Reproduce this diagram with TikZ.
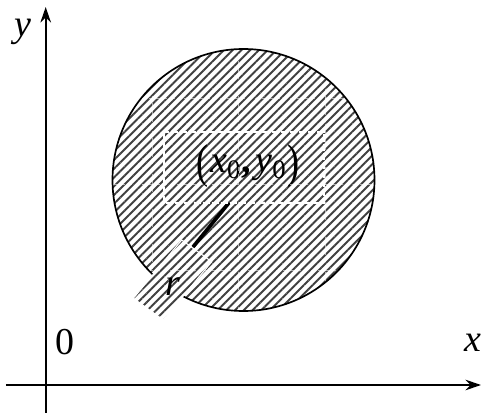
\documentclass[tikz,border=0pt]{standalone}
\usepackage{fontspec}
\usepackage{graphicx}
\setmainfont{Liberation Serif}
\usetikzlibrary{patterns.meta,arrows.meta}
\tikzset{
  hatch/.style={pattern={Lines[angle=45,distance=4.4pt,line width=1.5pt]},pattern color=black!75},
  axis/.style={line width=1.4pt,-{Stealth[length=11pt,width=7.5pt,inset=3.5pt]}},
  lbl/.style={font=\fontsize{27}{30}\selectfont, inner sep=0pt},
  tile/.style={white,line width=0.6pt,dash pattern=on 3pt off 2pt,opacity=0.55},
  rim/.style={white,line width=0.8pt}
}
\newcommand{\subz}{\raisebox{-0.3ex}{\fontsize{19}{20}\selectfont 0}}
\newcommand{\tallp}[1]{\raisebox{-0.12em}{\scalebox{0.95}[1.25]{#1}}}
\begin{document}
\begin{tikzpicture}[x=0.025cm,y=-0.025cm]
\useasboundingbox (0,0) rectangle (483,414);
% disc
\coordinate (O) at (243.5,180);
\path[hatch] (O) circle [radius=131];
\draw[line width=1.2pt] (O) circle [radius=131];
% radius
\coordinate (P) at (247.5,180);
\coordinate (Q) at (193,247);
\draw[line width=2.6pt] (P) -- (Q);
% centre label box
\coordinate (b1) at (164,132);
\coordinate (b2) at (324,203);
\fill[white] (b1) rectangle (b2);
\fill[hatch] (b1) rectangle (b2);
\draw[rim, dash pattern=on 5pt off 1.5pt] (b1) rectangle (b2);
\node[lbl] (c0) at (248,166)
      {\tallp{(}\kern1pt\textit{x}\subz\kern1pt\textbf{,}\kern3pt\textit{y}\subz\kern1pt\tallp{)}};
% radius label strip
\coordinate (A) at (181.7,240);
\coordinate (B) at (211.7,261.7);
\coordinate (C) at (163.3,320);
\coordinate (D) at (133.3,298.3);
\fill[white] (A) -- (B) -- (C) -- (D) -- cycle;
\fill[hatch] (A) -- (B) -- (C) -- (D) -- cycle;
\draw[rim] (A) -- (B) -- (C) -- (D) -- cycle;
\node[lbl] (r) at (173,287) {\textit{r}};
% tile seams
\begin{scope}
  \clip (O) circle [radius=130];
  \foreach \v in {152,238,325} \draw[tile] (\v,40) -- (\v,320);
  \foreach \h in {98,184,270} \draw[tile] (100,\h) -- (390,\h);
\end{scope}
% axes
\coordinate (xs) at (6,385);
\coordinate (xe) at (481,385);
\coordinate (ys) at (45.7,413);
\coordinate (ye) at (45.7,7);
\draw[axis] (xs) -- (xe);
\draw[axis] (ys) -- (ye);
\node[lbl] (ylab) at (23,32) {\textit{y}};
\node[lbl] (xlab) at (473,343) {\textit{x}};
\node[lbl] (zero) at (65,342) {0};
\end{tikzpicture}
\end{document}
